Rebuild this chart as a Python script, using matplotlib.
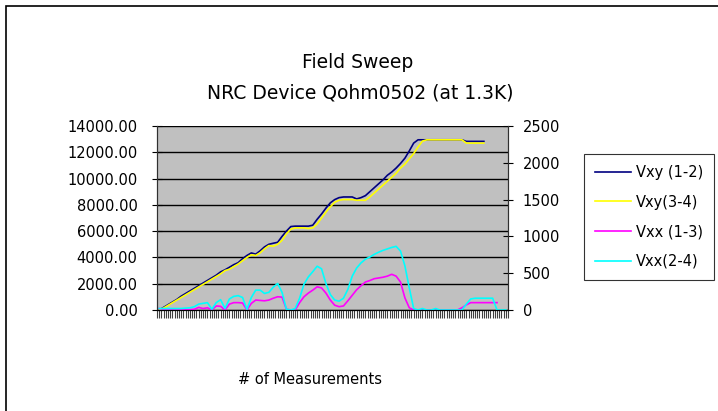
import numpy as np
import matplotlib
matplotlib.use("Agg")
import matplotlib.pyplot as plt
from matplotlib.patches import Rectangle

plt.rcParams['font.family'] = ['DejaVu Sans']

title = "Field Sweep\nNRC Device Qohm0502 (at 1.3K)"
xlabel = "# of Measurements"
labels = ["Vxy (1-2)", "Vxy(3-4)", "Vxx (1-3)", "Vxx(2-4)"]

nan = np.nan
vxy_12 = [0, 200, 400, 600, 800, 1050, 1250, 1450, 1650, 1850,
          2050, 2250, 2450, 2650, 2900, 3060, 3250, 3450, 3600, 3900,
          4150, 4340, 4250, 4500, 4800, 5000, 5080, 5150, 5600, 6000,
          6350, 6380, 6380, 6380, 6380, 6450, 6900, 7300, 7750, 8150,
          8400, 8550, 8600, 8600, 8600, 8450, 8550, 8700, 9000, 9300,
          9600, 9900, 10250, 10500, 10800, 11150, 11550, 12100, 12700, 12950,
          12950, 12950, 12950, 12950, 12950, 12950, 12950, 12950, 12950, 12950,
          12830, 12830, 12830, 12830, 12830, nan, nan, nan, nan, nan]
vxy_34 = [0, 150, 350, 550, 750, 950, 1150, 1350, 1550, 1750,
          1950, 2150, 2350, 2550, 2750, 3000, 3100, 3300, 3500, 3750,
          4000, 4200, 4150, 4350, 4650, 4900, 4850, 5000, 5300, 5800,
          6150, 6250, 6250, 6250, 6200, 6250, 6550, 7000, 7450, 7850,
          8200, 8350, 8400, 8400, 8400, 8350, 8350, 8350, 8600, 8900,
          9200, 9500, 9800, 10100, 10400, 10800, 11100, 11500, 11900, 12400,
          12850, 12950, 12950, 12950, 12950, 12950, 12950, 12950, 12950, 12950,
          12700, 12700, 12700, 12700, 12700, nan, nan, nan, nan, nan]
vxx_13 = [20, 10, 5, 5, 5, 5, 5, 5, 10, 35,
          20, 30, 0, 55, 50, 0, 80, 100, 100, 95,
          0, 90, 135, 130, 125, 135, 160, 180, 175, 10,
          0, 0, 100, 180, 230, 270, 315, 300, 230, 135,
          65, 45, 55, 125, 200, 275, 330, 380, 400, 425,
          435, 445, 460, 485, 460, 380, 165, 30, 0, 0,
          0, 0, 0, 0, 0, 0, 0, 0, 0, 30,
          70, 100, 100, 100, 100, 100, 100, 100, nan, nan]
vxx_24 = [20, 20, 20, 20, 20, 20, 25, 30, 45, 80,
          90, 100, 10, 100, 140, 20, 150, 185, 195, 170,
          10, 170, 270, 270, 225, 240, 310, 360, 240, 10,
          0, 20, 160, 350, 450, 520, 595, 560, 360, 210,
          135, 120, 160, 280, 460, 570, 640, 690, 720, 755,
          785, 810, 830, 850, 865, 800, 600, 300, 20, 0,
          20, 0, 0, 20, 0, 0, 0, 0, 0, 0,
          80, 150, 160, 160, 160, 160, 160, 0, 0, 0]

left_ticks = [0, 2000, 4000, 6000, 8000, 10000, 12000, 14000]
right_ticks = [0, 500, 1000, 1500, 2000, 2500]

W, H = 718, 411
fig = plt.figure(figsize=(W / 100, H / 100), dpi=100)
ax = fig.add_axes([157 / W, 1 - 310 / H, (508 - 157) / W, (310 - 126) / H])
ax2 = ax.twinx()

n = len(vxy_12)
x = np.arange(n)
ax.set_facecolor('#C0C0C0')
ax.plot(x, vxy_12, color='#000080', lw=1.2, label=labels[0])
ax.plot(x, vxy_34, color='#FFFF00', lw=1.2, label=labels[1])
ax2.plot(x, vxx_13, color='#FF00FF', lw=1.2, label=labels[2])
ax2.plot(x, vxx_24, color='#00FFFF', lw=1.2, label=labels[3])

ax.set_xlim(-0.5, n - 0.5)
ax.set_ylim(0, 14000)
ax2.set_ylim(0, 2500)
ax.set_yticks(left_ticks)
ax.set_yticklabels([f"{v:.2f}" for v in left_ticks])
ax2.set_yticks(right_ticks)
ax2.set_yticklabels([str(v) for v in right_ticks])
ax.set_xticks(np.arange(-0.5, n, 0.5))
ax.set_xticklabels([])
ax.tick_params(axis='x', direction='out', length=6, width=0.8, color='#404040')
ax.tick_params(axis='y', direction='inout', length=7, width=0.8, labelsize=10.5, pad=10.5)
ax2.tick_params(axis='y', direction='inout', length=7, width=0.8, labelsize=10.5, pad=7)
ax.yaxis.grid(True, color='black', lw=1)
ax.set_axisbelow(True)

for a in (ax, ax2):
    a.spines['top'].set_visible(False)
    a.spines['left'].set_color('#303030')
    a.spines['right'].set_color('#303030')
    a.spines['bottom'].set_color('black')

fig.text(358 / W, 1 - 63 / H, "Field Sweep", ha='center', va='center', fontsize=13.5)
fig.text(360 / W, 1 - 93 / H, "NRC Device Qohm0502 (at 1.3K)", ha='center', va='center', fontsize=13.5)
fig.text(310 / W, 1 - 379 / H, xlabel, ha='center', va='center', fontsize=10.5)

h1, l1 = ax.get_legend_handles_labels()
h2, l2 = ax2.get_legend_handles_labels()
leg = fig.legend(h1 + h2, l1 + l2, loc='upper left', bbox_to_anchor=(584 / W, 1 - 154 / H),
                 fontsize=10.5, frameon=True, fancybox=False, edgecolor='black',
                 handlelength=2.45, labelspacing=1.0, borderpad=0.75, handletextpad=0.35,
                 borderaxespad=0)
leg.get_frame().set_linewidth(0.8)

fig.add_artist(Rectangle((6 / W, -0.1), 1.2, 1 - 6 / H + 0.1, transform=fig.transFigure,
                         fill=False, edgecolor='black', lw=1.2))

fig.savefig('out.png', dpi=100)
